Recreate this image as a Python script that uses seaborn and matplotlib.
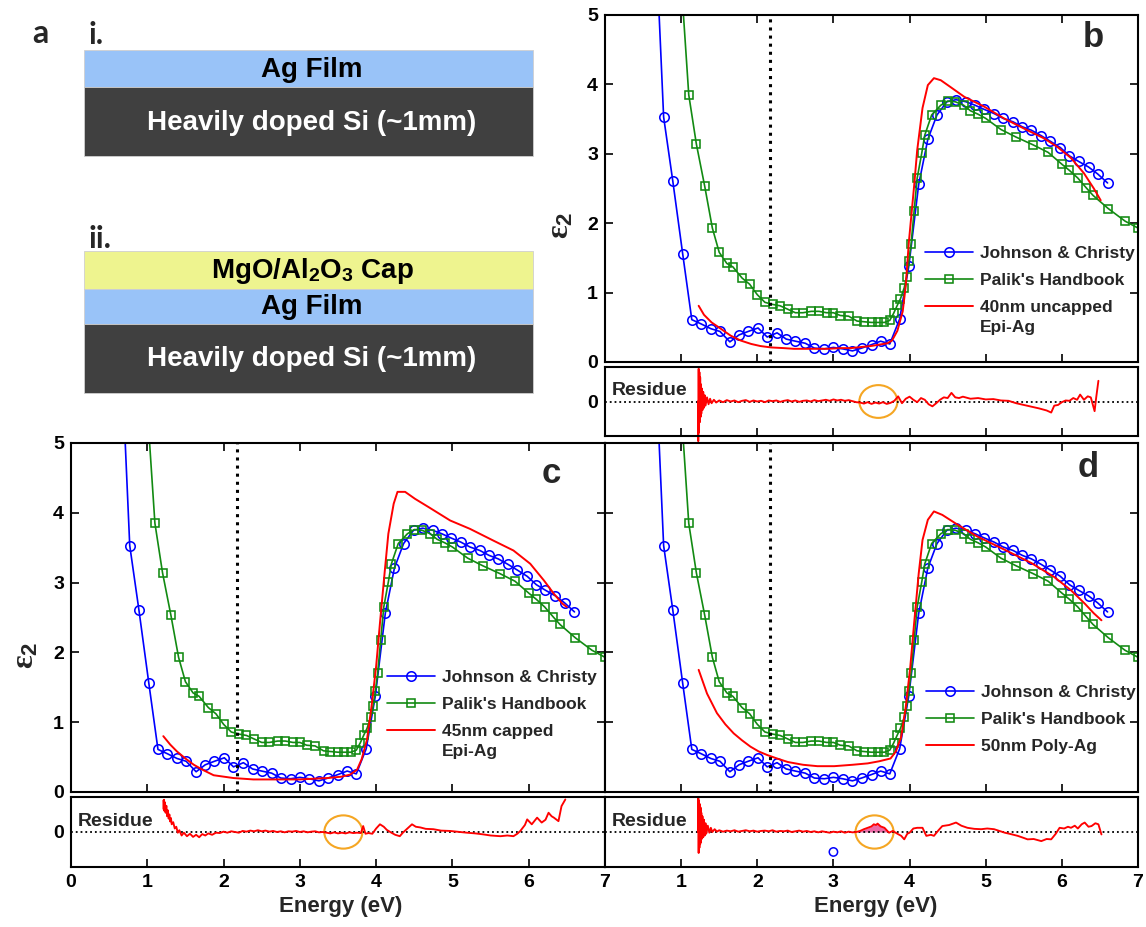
import numpy as np
import pandas as pd
import matplotlib
matplotlib.use("Agg")
import matplotlib.pyplot as plt
import seaborn as sns
from matplotlib.patches import Rectangle, Ellipse

# ---------------- data ----------------
E_jc = [0.64, 0.77, 0.89, 1.02, 1.14, 1.26, 1.39, 1.51, 1.64, 1.76, 1.88, 2.01, 2.13, 2.26, 2.38,
        2.50, 2.63, 2.75, 2.88, 3.00, 3.12, 3.25, 3.37, 3.50, 3.62, 3.74, 3.87, 3.99, 4.12, 4.24,
        4.36, 4.49, 4.61, 4.74, 4.86, 4.98, 5.11, 5.23, 5.36, 5.48, 5.60, 5.73, 5.85, 5.98, 6.10,
        6.22, 6.35, 6.47, 6.60]
eps_jc = [6.76, 3.53, 2.61, 1.56, 0.61, 0.55, 0.48, 0.44, 0.29, 0.39, 0.44, 0.49, 0.36, 0.42, 0.33,
          0.30, 0.27, 0.20, 0.19, 0.21, 0.19, 0.16, 0.20, 0.25, 0.30, 0.26, 0.62, 1.38, 2.56, 3.21,
          3.56, 3.75, 3.78, 3.75, 3.70, 3.64, 3.58, 3.51, 3.46, 3.39, 3.34, 3.26, 3.18, 3.09, 2.97,
          2.89, 2.81, 2.71, 2.58]

E_pk = [0.90, 1.00, 1.10, 1.20, 1.31, 1.41, 1.50, 1.60, 1.68, 1.80, 1.90, 2.00, 2.10, 2.20, 2.30,
        2.40, 2.50, 2.60, 2.71, 2.81, 2.91, 3.00, 3.09, 3.20, 3.31, 3.40, 3.50, 3.58, 3.67, 3.74,
        3.79, 3.84, 3.88, 3.93, 3.96, 3.99, 4.02, 4.06, 4.10, 4.16, 4.20, 4.29, 4.41, 4.50, 4.60,
        4.71, 4.80, 4.90, 5.00, 5.20, 5.40, 5.62, 5.82, 6.00, 6.10, 6.21, 6.32, 6.41, 6.61, 6.83, 7.00]
eps_pk = [7.60, 5.50, 3.85, 3.14, 2.53, 1.93, 1.58, 1.42, 1.37, 1.21, 1.12, 0.97, 0.86, 0.83, 0.81,
          0.76, 0.71, 0.71, 0.73, 0.73, 0.71, 0.71, 0.67, 0.66, 0.59, 0.58, 0.57, 0.57, 0.57, 0.60,
          0.70, 0.82, 0.91, 1.07, 1.23, 1.45, 1.70, 2.18, 2.65, 3.01, 3.27, 3.56, 3.70, 3.76, 3.75,
          3.70, 3.62, 3.57, 3.51, 3.35, 3.24, 3.13, 3.02, 2.85, 2.76, 2.65, 2.51, 2.40, 2.21, 2.03, 1.93]

# 40nm uncapped Epi-Ag (panel b)
E_b = [1.23, 1.30, 1.40, 1.52, 1.65, 1.78, 1.92, 2.04, 2.18, 2.35, 2.48, 2.70, 2.92, 3.10, 3.23,
       3.40, 3.49, 3.60, 3.71, 3.77, 3.84, 3.91, 3.95, 3.99, 4.06, 4.10, 4.17, 4.24, 4.32, 4.41,
       4.54, 4.72, 4.98, 5.24, 5.51, 5.77, 5.94, 6.12, 6.29, 6.42, 6.51]
eps_b = [0.81, 0.68, 0.57, 0.48, 0.38, 0.31, 0.26, 0.23, 0.21, 0.20, 0.19, 0.19, 0.19, 0.20, 0.20,
         0.22, 0.23, 0.25, 0.27, 0.31, 0.45, 0.73, 1.10, 1.72, 2.54, 3.05, 3.66, 3.99, 4.09, 4.06,
         3.96, 3.82, 3.68, 3.51, 3.36, 3.22, 3.10, 2.94, 2.72, 2.50, 2.33]

# 45nm capped Epi-Ag (panel c)
E_c = [1.21, 1.30, 1.39, 1.50, 1.61, 1.74, 1.87, 2.00, 2.13, 2.39, 2.70, 3.00, 3.36, 3.55, 3.66,
       3.75, 3.81, 3.88, 3.94, 4.00, 4.05, 4.11, 4.16, 4.23, 4.28, 4.38, 4.51, 4.69, 4.97, 5.23,
       5.54, 5.80, 6.02, 6.20, 6.33, 6.44, 6.50]
eps_c = [0.80, 0.68, 0.58, 0.48, 0.39, 0.31, 0.24, 0.22, 0.20, 0.18, 0.18, 0.18, 0.20, 0.22, 0.25,
         0.32, 0.47, 0.75, 1.23, 1.80, 2.42, 3.13, 3.70, 4.13, 4.30, 4.30, 4.20, 4.08, 3.89, 3.77,
         3.60, 3.46, 3.27, 3.03, 2.84, 2.70, 2.65]

# 50nm Poly-Ag (panel d)
E_d = [1.23, 1.34, 1.47, 1.58, 1.69, 1.80, 1.91, 2.02, 2.13, 2.26, 2.40, 2.60, 2.79, 3.01, 3.25,
       3.45, 3.60, 3.75, 3.82, 3.89, 3.95, 4.01, 4.06, 4.12, 4.17, 4.24, 4.32, 4.43, 4.63, 4.89,
       5.25, 5.60, 5.90, 6.12, 6.30, 6.42, 6.52]
eps_d = [1.75, 1.41, 1.13, 0.97, 0.84, 0.74, 0.65, 0.58, 0.53, 0.48, 0.43, 0.39, 0.37, 0.37, 0.39,
         0.41, 0.44, 0.48, 0.58, 0.79, 1.22, 1.80, 2.42, 3.13, 3.61, 3.90, 4.02, 3.97, 3.83, 3.66,
         3.47, 3.28, 3.08, 2.89, 2.70, 2.56, 2.46]

E_flat = [1.50, 1.55, 1.60, 1.65, 1.70, 1.75, 1.80, 1.85, 1.90, 1.95, 2.00, 2.05, 2.10, 2.15, 2.20,
          2.25, 2.30, 2.35, 2.40, 2.45, 2.50, 2.55, 2.60, 2.65, 2.70, 2.75, 2.80, 2.85, 2.90, 2.95,
          3.00, 3.05, 3.10, 3.15, 3.20, 3.25, 3.30]

# residue b
res_b_E = ([1.22, 1.225, 1.23, 1.235, 1.24, 1.245, 1.25, 1.255, 1.26, 1.265, 1.27, 1.28, 1.29, 1.30,
            1.31, 1.32, 1.34, 1.36, 1.38, 1.40, 1.43, 1.46] + E_flat +
           [3.35, 3.40, 3.45, 3.50, 3.55, 3.60, 3.65, 3.70, 3.75, 3.80, 3.85, 3.90, 3.95, 4.00, 4.05,
            4.10, 4.15, 4.20, 4.25, 4.30, 4.35, 4.40, 4.45, 4.50, 4.55, 4.60, 4.65, 4.70, 4.80, 4.90,
            5.00, 5.10, 5.20, 5.30, 5.40, 5.50, 5.60, 5.70, 5.80, 5.86, 5.90, 5.95, 6.00, 6.05, 6.10,
            6.15, 6.20, 6.24, 6.29, 6.34, 6.38, 6.43, 6.45, 6.48])
res_b = ([0.0, -1.15, 0.95, -0.90, 0.85, -0.60, 0.70, -0.45, 0.50, -0.35, 0.38, -0.25, 0.28, -0.18,
          0.18, -0.12, 0.12, -0.08, 0.08, -0.05, 0.05, -0.03] +
         [0.03, -0.02, 0.04, 0.00, 0.03, -0.02, 0.02, 0.04, -0.01, 0.03, 0.00, 0.02, -0.02, 0.03, 0.01,
          0.03, -0.01, 0.02, 0.04, 0.00, 0.03, -0.01, 0.02, 0.03, 0.00, 0.04, 0.01, 0.03, 0.05, 0.02,
          0.06, 0.03, 0.05, 0.02, 0.04, 0.01, -0.02] +
         [-0.03, -0.06, -0.02, -0.07, -0.03, -0.06, -0.02, -0.07, -0.04, 0.02, 0.15, -0.05, 0.08, 0.14,
          0.05, -0.02, 0.10, 0.05, -0.08, -0.14, -0.05, 0.05, 0.12, 0.10, 0.25, 0.12, 0.10, 0.14, 0.08,
          0.10, 0.06, 0.07, 0.03, 0.02, -0.05, -0.10, -0.15, -0.20, -0.26, -0.32, -0.12, -0.10, -0.02,
          0.03, 0.02, 0.10, 0.05, 0.20, 0.05, 0.15, 0.12, -0.28, 0.10, 0.60])

# residue c
res_c_E = ([1.21, 1.215, 1.22, 1.225, 1.23, 1.24, 1.25, 1.26, 1.27, 1.28, 1.29, 1.30, 1.31, 1.32, 1.34,
            1.36, 1.38, 1.40, 1.42, 1.45, 1.48, 1.52, 1.56, 1.60, 1.64, 1.68, 1.72, 1.76, 1.80, 1.85,
            1.90] + E_flat[9:] +
           [3.35, 3.40, 3.45, 3.50, 3.55, 3.60, 3.65, 3.70, 3.75, 3.80, 3.83, 3.86, 3.90, 3.95, 4.00,
            4.05, 4.10, 4.14, 4.20, 4.25, 4.31, 4.35, 4.40, 4.47, 4.52, 4.58, 4.65, 4.75, 4.85, 4.97,
            5.10, 5.19, 5.30, 5.41, 5.50, 5.63, 5.72, 5.80, 5.85, 5.89, 5.95, 5.98, 6.04, 6.11, 6.17,
            6.22, 6.26, 6.30, 6.33, 6.39, 6.43, 6.48])
res_c = ([0.90, 0.65, 0.92, 0.60, 0.85, 0.55, 0.75, 0.45, 0.62, 0.38, 0.50, 0.30, 0.40, 0.22, 0.28,
          0.10, 0.15, -0.02, 0.05, -0.10, -0.02, -0.12, -0.05, -0.14, -0.08, -0.15, -0.06, -0.10,
          -0.04, -0.08, -0.02] +
         [-0.03, 0.01, -0.02, 0.02, 0.00, -0.02, 0.03, 0.01, 0.04, 0.02, 0.05, 0.02, 0.04, 0.01, 0.03,
          0.00, 0.02, -0.01, 0.02, 0.01, 0.03, 0.00, 0.02, -0.01, 0.01, 0.02, -0.01, 0.00] +
         [-0.02, -0.04, -0.01, -0.04, -0.02, -0.04, -0.01, -0.03, -0.02, -0.03, 0.17, -0.05, -0.03,
          -0.05, 0.10, 0.22, 0.15, 0.06, -0.02, -0.08, -0.12, -0.02, 0.08, 0.22, 0.15, 0.13, 0.09,
          0.08, 0.04, 0.03, 0.00, -0.02, -0.04, -0.07, -0.10, -0.12, -0.10, -0.12, -0.05, 0.03, 0.20,
          0.36, 0.22, 0.41, 0.27, 0.35, 0.55, 0.45, 0.41, 0.31, 0.74, 0.93])

# residue d
res_d_E = ([1.22, 1.225, 1.23, 1.235, 1.24, 1.245, 1.25, 1.255, 1.26, 1.265, 1.27, 1.28, 1.29, 1.30,
            1.31, 1.32, 1.33, 1.35, 1.37, 1.39, 1.41, 1.44, 1.47] + E_flat +
           [3.35, 3.40, 3.45, 3.50, 3.53, 3.56, 3.58, 3.62, 3.67, 3.73, 3.78, 3.84, 3.89, 3.93, 3.97,
            4.00, 4.05, 4.10, 4.17, 4.22, 4.28, 4.32, 4.38, 4.43, 4.52, 4.61, 4.68, 4.76, 4.85, 4.94,
            5.02, 5.11, 5.18, 5.25, 5.33, 5.42, 5.50, 5.55, 5.63, 5.73, 5.80, 5.86, 5.92, 5.97, 6.03,
            6.08, 6.12, 6.17, 6.21, 6.26, 6.30, 6.35, 6.39, 6.44, 6.48, 6.52])
res_d = ([0.0, 1.10, -0.60, 0.90, -0.45, 0.80, -0.35, 0.70, -0.30, 0.55, -0.20, 0.45, -0.15, 0.35,
          -0.10, 0.25, -0.05, 0.18, -0.02, 0.12, 0.00, 0.08, 0.01] +
         [0.05, 0.01, 0.04, 0.02, 0.05, 0.01, 0.03, 0.05, 0.02, 0.04, 0.01, 0.03, 0.04, 0.02, 0.05,
          0.01, 0.03, 0.02, 0.04, 0.00, 0.02, 0.04, 0.01, 0.03, 0.00, 0.02, -0.01, 0.02, 0.00, -0.02,
          0.01, -0.01, 0.02, -0.02, 0.01, -0.01, 0.00] +
         [0.03, 0.08, 0.12, 0.16, 0.22, 0.20, 0.24, 0.16, 0.12, -0.02, 0.03, -0.05, -0.11, -0.21,
          -0.05, -0.02, 0.10, 0.12, 0.12, -0.11, -0.08, -0.11, 0.05, 0.17, 0.20, 0.27, 0.18, 0.12,
          0.09, 0.08, 0.10, 0.08, 0.03, -0.02, -0.06, -0.11, -0.17, -0.21, -0.20, -0.26, -0.20,
          -0.21, -0.05, 0.12, 0.10, 0.15, 0.12, 0.18, 0.10, 0.22, 0.27, 0.15, 0.17, 0.25, 0.22, -0.07])
pink_range = (3.30, 3.74)
stray_E = [3.00]
stray_res = [-0.57]

vline_E = 2.17
circle_E = {"b": 3.59, "c": 3.57, "d": 3.54}
x_ticks = [0, 1, 2, 3, 4, 5, 6, 7]
y_ticks = [0, 1, 2, 3, 4, 5]
legend_labels = ["Johnson & Christy", "Palik's Handbook"]

# ---------------- style ----------------
sns.set_theme(style="ticks")
plt.rcParams["font.family"] = ["Liberation Sans", "DejaVu Sans"]
plt.rcParams["font.weight"] = "bold"
plt.rcParams["mathtext.fontset"] = "custom"
plt.rcParams["mathtext.rm"] = "Liberation Serif"
plt.rcParams["mathtext.bf"] = "Liberation Sans:bold"
plt.rcParams["mathtext.it"] = "Liberation Serif:italic"

BLUE = "#0000ff"
GREEN = "#128a12"
RED = "#ff0000"
ORANGE = "#f5a623"
PINK = "#ec6aa6"

W, H = 1146, 927
fig = plt.figure(figsize=(W / 100, H / 100), dpi=100)


def px_axes(l, t, r, b):
    return fig.add_axes([l / W, 1 - b / H, (r - l) / W, (b - t) / H])


# ---------------- panel a : layer diagram ----------------
ax0 = px_axes(0, 0, W, H)
ax0.set_xlim(0, W)
ax0.set_ylim(H, 0)
ax0.axis("off")
layers = [  # (top, bottom, color, text, text color)
    (50, 87, "#99c3f8", "Ag Film", "black"),
    (87, 156, "#404040", "Heavily doped Si (~1mm)", "white"),
    (251, 289, "#eef48f", r"MgO/Al$_\mathbf{2}$O$_\mathbf{3}$ Cap", "black"),
    (289, 324, "#99c3f8", "Ag Film", "black"),
    (324, 393, "#404040", "Heavily doped Si (~1mm)", "white"),
]
for top, bot, col, txt, tcol in layers:
    ax0.add_patch(Rectangle((84, top), 449, bot - top, facecolor=col, edgecolor="#cfcfcf", lw=0.6))
    ax0.text(312, (top + bot) / 2 + 1, txt, ha="center", va="center", color=tcol,
             fontsize=20, fontweight="bold")
ax0.text(40, 33, "a", ha="center", va="center", fontsize=23, fontweight="bold", family="Lato")
ax0.text(96, 35, "i.", ha="center", va="center", fontsize=22, fontweight="bold", family="Lato")
ax0.text(100, 239, "ii.", ha="center", va="center", fontsize=22, fontweight="bold", family="Lato")


# ---------------- helpers ----------------
def style_axes(ax, main=True):
    ax.set_xlim(0, 7)
    ax.set_xticks(x_ticks)
    for s in ax.spines.values():
        s.set_visible(True)
        s.set_color("black")
        s.set_linewidth(1.5)
    ax.tick_params(direction="in", length=6, width=1.2, colors="black", labelsize=14,
                   top=main, right=main, bottom=True, left=True, pad=5)
    ax.set_xlabel("")
    ax.set_ylabel("")


def draw_main(ax, E_red, eps_red, red_label, extra_line, letter, letter_pos, leg_anchor, ylabels):
    sns.lineplot(x=E_jc, y=eps_jc, ax=ax, color=BLUE, lw=1.2, marker="o", markersize=6.8,
                 markerfacecolor="none", markeredgecolor=BLUE, markeredgewidth=1.15,
                 sort=False, estimator=None, legend=False)
    h1 = ax.lines[-1]
    sns.lineplot(x=E_pk, y=eps_pk, ax=ax, color=GREEN, lw=1.2, marker="s", markersize=5.8,
                 markerfacecolor="none", markeredgecolor=GREEN, markeredgewidth=1.15,
                 sort=False, estimator=None, legend=False)
    h2 = ax.lines[-1]
    sns.lineplot(x=E_red, y=eps_red, ax=ax, color=RED, lw=1.4, sort=False, estimator=None,
                 legend=False)
    h3 = ax.lines[-1]
    ax.axvline(vline_E, color="black", ls=":", lw=2.2)
    style_axes(ax, main=True)
    ax.set_ylim(0, 5)
    ax.set_yticks(y_ticks)
    ax.set_xticklabels([])
    if not ylabels:
        ax.set_yticklabels([])
    leg = ax.legend([h1, h2, h3], legend_labels + [red_label], loc="upper left",
                    bbox_to_anchor=leg_anchor, frameon=False, borderpad=0, borderaxespad=0,
                    handlelength=2.75, handletextpad=0.42, labelspacing=0.68,
                    prop={"size": 12.5, "weight": "bold"})
    if extra_line:
        ax.annotate(extra_line, xy=(0, 0), xycoords=leg.get_texts()[2], xytext=(0, -3.5),
                    textcoords="offset points", ha="left", va="top", fontsize=12.5,
                    fontweight="bold", zorder=10)
    ax.text(letter_pos[0], letter_pos[1], letter, transform=ax.transAxes, ha="center",
            va="center", fontsize=25, fontweight="bold")


def draw_res(ax, E_r, v_r, cE, ylabel0=True, xlabels=None, clip=True, pink=False):
    ax.axhline(0, color="black", ls=":", lw=1.3)
    if pink:
        Ea = np.array(E_r)
        va = np.array(v_r)
        mask = (Ea >= pink_range[0]) & (Ea <= pink_range[1]) & (va > 0)
        ax.fill_between(Ea, va, 0, where=mask, color=PINK, lw=0, interpolate=True)
    sns.lineplot(x=E_r, y=v_r, ax=ax, color=RED, lw=1.35, sort=False, estimator=None,
                 legend=False)
    ax.lines[-1].set_clip_on(clip)
    ax.add_patch(Ellipse((cE, 0), width=0.5, height=0.95, fill=False, ec=ORANGE, lw=1.5))
    style_axes(ax, main=False)
    ax.set_ylim(-1, 1)
    ax.set_yticks([0])
    ax.tick_params(axis="y", length=0)
    if not ylabel0:
        ax.set_yticklabels([])
    if xlabels is None:
        ax.set_xticklabels([])
    else:
        ax.set_xticklabels(xlabels)
        ax.set_xlabel("Energy (eV)", fontsize=16, fontweight="bold")
        ax.xaxis.set_label_coords(0.505, -0.57)
        ax.xaxis.label.set_va("center")
    ax.text(0.013, 0.31 / 2 + 0.5, "Residue", transform=ax.transAxes, ha="left", va="center",
            fontsize=14, fontweight="bold")


eps_label = r"$\mathrm{\varepsilon}_{\mathbf{2}}$"

# ---------------- panel b ----------------
ax_b = px_axes(605, 15, 1138, 362)
draw_main(ax_b, E_b, eps_b, "40nm uncapped", "Epi-Ag", "b", (0.916, 0.934), (0.60, 0.334), True)
ax_b.set_ylabel(eps_label, fontsize=23, rotation=90)
ax_b.yaxis.set_label_coords(-0.084, 0.395)
ax_b.yaxis.label.set_va("center")
ax_rb = px_axes(605, 367, 1138, 436)
draw_res(ax_rb, res_b_E, res_b, circle_E["b"], ylabel0=True, xlabels=None, clip=False)

# ---------------- panel c ----------------
ax_c = px_axes(71, 443, 605, 792)
draw_main(ax_c, E_c, eps_c, "45nm capped", "Epi-Ag", "c", (0.90, 0.913), (0.592, 0.35), True)
ax_c.set_ylabel(eps_label, fontsize=23, rotation=90)
ax_c.yaxis.set_label_coords(-0.086, 0.393)
ax_c.yaxis.label.set_va("center")
ax_rc = px_axes(71, 797, 605, 867)
draw_res(ax_rc, res_c_E, res_c, circle_E["c"], ylabel0=True, xlabels=[str(t) for t in x_ticks])

# ---------------- panel d ----------------
ax_d = px_axes(605, 443, 1138, 792)
draw_main(ax_d, E_d, eps_d, "50nm Poly-Ag", None, "d", (0.906, 0.93), (0.602, 0.307), False)
ax_rd = px_axes(605, 797, 1138, 867)
draw_res(ax_rd, res_d_E, res_d, circle_E["d"], ylabel0=False,
         xlabels=[""] + [str(t) for t in x_ticks[1:]], pink=True)
sns.scatterplot(x=stray_E, y=stray_res, ax=ax_rd, marker="o", s=36, facecolor="none",
                edgecolor=BLUE, linewidth=1.1, legend=False)
ax_rd.set_xlabel("Energy (eV)", fontsize=16, fontweight="bold")
ax_rd.xaxis.set_label_coords(0.508, -0.57)
ax_rd.xaxis.label.set_va("center")
ax_rd.set_ylabel("")

fig.canvas.draw()
fig.savefig("out.png", dpi=100)
